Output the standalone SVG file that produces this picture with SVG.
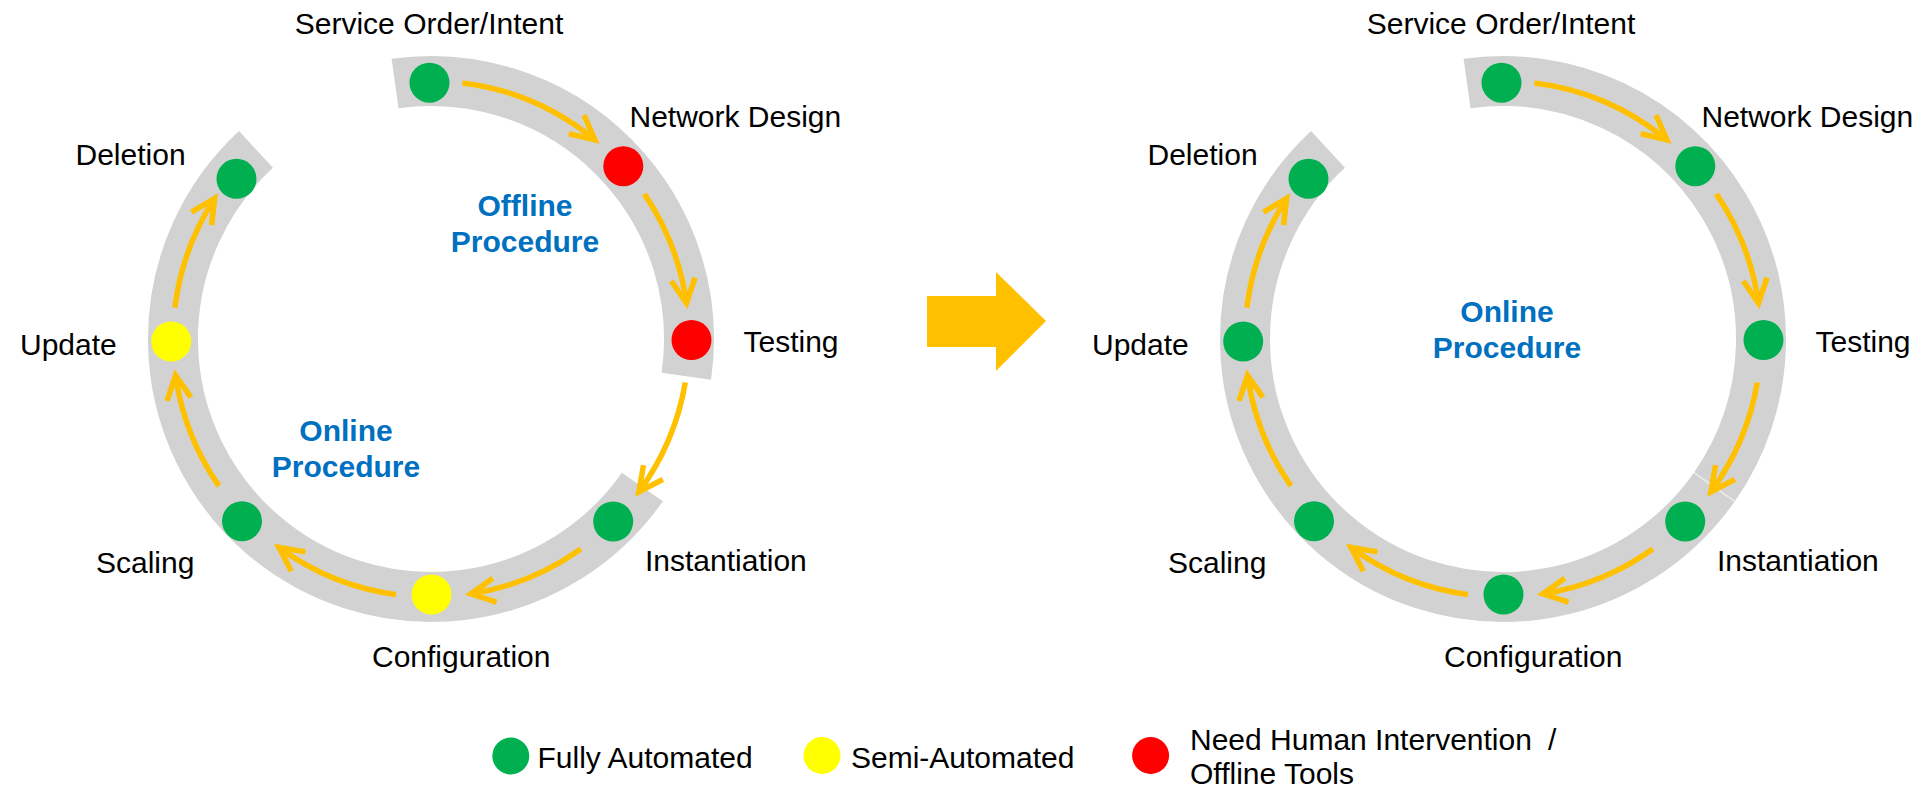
<svg xmlns="http://www.w3.org/2000/svg" width="1926" height="788" viewBox="0 0 1926 788">
<style>
.band{fill:none;stroke:#D2D2D2;stroke-width:50;stroke-linecap:butt}
.seam{stroke:#ECECEC;stroke-width:1.5}
.arr{fill:none;stroke:#FFC000;stroke-width:5.5;marker-end:url(#ah)}
.lbl{font-family:"Liberation Sans",Arial,sans-serif;font-size:30px;fill:#000}
.blue{font-family:"Liberation Sans",Arial,sans-serif;font-size:30px;font-weight:bold;fill:#0070C0;text-anchor:middle}
.g{fill:#00B050}.y{fill:#FFFF00}.r{fill:#FF0000}
</style>
<defs>
<marker id="ah" markerUnits="userSpaceOnUse" viewBox="-30 -16 34 32" refX="0" refY="0" markerWidth="34" markerHeight="32" orient="auto" overflow="visible">
<path d="M-24,-12 L0,0 L-24,12" fill="none" stroke="#FFC000" stroke-width="5.5" stroke-linejoin="miter"/>
</marker>
</defs>
<rect width="1926" height="788" fill="#fff"/>

<!-- LEFT CYCLE -->
<g id="left-ring">
<path class="band" d="M395.09,83.51 A258,258 0 0 1 686.30,376.25"/>
<path class="band" d="M642.34,486.98 A258,258 0 1 1 255.98,149.45"/>
</g>
<g id="left-connectors">
<path class="arr" d="M462.44,82.92 A258,258 0 0 1 594.88,139.73"/>
<path class="arr" d="M644.39,193.98 A258,258 0 0 1 686.49,303.09"/>
<path class="arr" d="M685.31,382.47 A258,258 0 0 1 638.93,491.74"/>
<path class="arr" d="M580.82,549.04 A258,258 0 0 1 470.92,593.89"/>
<path class="arr" d="M395.98,594.61 A258,258 0 0 1 278.99,547.46"/>
<path class="arr" d="M218.89,485.87 A258,258 0 0 1 175.57,375.35"/>
<path class="arr" d="M174.92,307.56 A258,258 0 0 1 214.62,198.48"/>
</g>
<g id="left-service-order"><circle class="g" cx="429.5" cy="82.7" r="20"/><text class="lbl" x="429" y="34" text-anchor="middle">Service Order/Intent</text></g>
<g id="left-network-design"><circle class="r" cx="623.3" cy="166.2" r="20"/><text class="lbl" x="629.5" y="126.5">Network Design</text></g>
<g id="left-testing"><circle class="r" cx="691.5" cy="340" r="20"/><text class="lbl" x="743.5" y="351.5">Testing</text></g>
<g id="left-instantiation"><circle class="g" cx="613.2" cy="521.5" r="20"/><text class="lbl" x="645" y="571">Instantiation</text></g>
<g id="left-configuration"><circle class="y" cx="431.5" cy="594.5" r="20"/><text class="lbl" x="372" y="667">Configuration</text></g>
<g id="left-scaling"><circle class="g" cx="242" cy="521.2" r="20"/><text class="lbl" x="96" y="573">Scaling</text></g>
<g id="left-update"><circle class="y" cx="171.2" cy="341.5" r="20"/><text class="lbl" x="20" y="354.5">Update</text></g>
<g id="left-deletion"><circle class="g" cx="236.5" cy="178.8" r="20"/><text class="lbl" x="75.5" y="164.5">Deletion</text></g>
<g id="left-offline-label"><text class="blue" x="525" y="216">Offline</text><text class="blue" x="525" y="252">Procedure</text></g>
<g id="left-online-label"><text class="blue" x="346" y="441">Online</text><text class="blue" x="346" y="477">Procedure</text></g>

<!-- TRANSITION ARROW -->
<g id="transition-arrow"><polygon points="927,296 996,296 996,272 1046,321 996,371 996,347 927,347" fill="#FFC000"/></g>

<!-- RIGHT CYCLE -->
<g transform="translate(1072,0)">
<g id="right-ring">
<path class="band" d="M395.09,83.51 A258,258 0 0 1 642.34,486.98"/>
<path class="band" d="M642.34,486.98 A258,258 0 1 1 255.98,149.45"/>
<line class="seam" x1="621.86" y1="472.64" x2="662.82" y2="501.32"/>
</g>
<g id="right-connectors">
<path class="arr" d="M462.44,82.92 A258,258 0 0 1 594.88,139.73"/>
<path class="arr" d="M644.39,193.98 A258,258 0 0 1 686.49,303.09"/>
<path class="arr" d="M685.31,382.47 A258,258 0 0 1 638.93,491.74"/>
<path class="arr" d="M580.82,549.04 A258,258 0 0 1 470.92,593.89"/>
<path class="arr" d="M395.98,594.61 A258,258 0 0 1 278.99,547.46"/>
<path class="arr" d="M218.89,485.87 A258,258 0 0 1 175.57,375.35"/>
<path class="arr" d="M174.92,307.56 A258,258 0 0 1 214.62,198.48"/>
</g>
<g id="right-service-order"><circle class="g" cx="429.5" cy="82.7" r="20"/><text class="lbl" x="429" y="34" text-anchor="middle">Service Order/Intent</text></g>
<g id="right-network-design"><circle class="g" cx="623.3" cy="166.2" r="20"/><text class="lbl" x="629.5" y="126.5">Network Design</text></g>
<g id="right-testing"><circle class="g" cx="691.5" cy="340" r="20"/><text class="lbl" x="743.5" y="351.5">Testing</text></g>
<g id="right-instantiation"><circle class="g" cx="613.2" cy="521.5" r="20"/><text class="lbl" x="645" y="571">Instantiation</text></g>
<g id="right-configuration"><circle class="g" cx="431.5" cy="594.5" r="20"/><text class="lbl" x="372" y="667">Configuration</text></g>
<g id="right-scaling"><circle class="g" cx="242" cy="521.2" r="20"/><text class="lbl" x="96" y="573">Scaling</text></g>
<g id="right-update"><circle class="g" cx="171.2" cy="341.5" r="20"/><text class="lbl" x="20" y="354.5">Update</text></g>
<g id="right-deletion"><circle class="g" cx="236.5" cy="178.8" r="20"/><text class="lbl" x="75.5" y="164.5">Deletion</text></g>
<g id="right-online-label"><text class="blue" x="435" y="321.5">Online</text><text class="blue" x="435" y="357.5">Procedure</text></g>
</g>

<!-- LEGEND -->
<g id="legend">
<g id="legend-fully"><circle class="g" cx="510.8" cy="756" r="18.5"/><text class="lbl" x="537.5" y="768">Fully Automated</text></g>
<g id="legend-semi"><circle class="y" cx="822" cy="755.5" r="18.5"/><text class="lbl" x="851" y="768">Semi-Automated</text></g>
<g id="legend-human"><circle class="r" cx="1150.6" cy="755.5" r="18.5"/><text class="lbl" x="1190" y="750">Need Human Intervention<tspan x="1548">/</tspan></text><text class="lbl" x="1190" y="784">Offline Tools</text></g>
</g>
</svg>
